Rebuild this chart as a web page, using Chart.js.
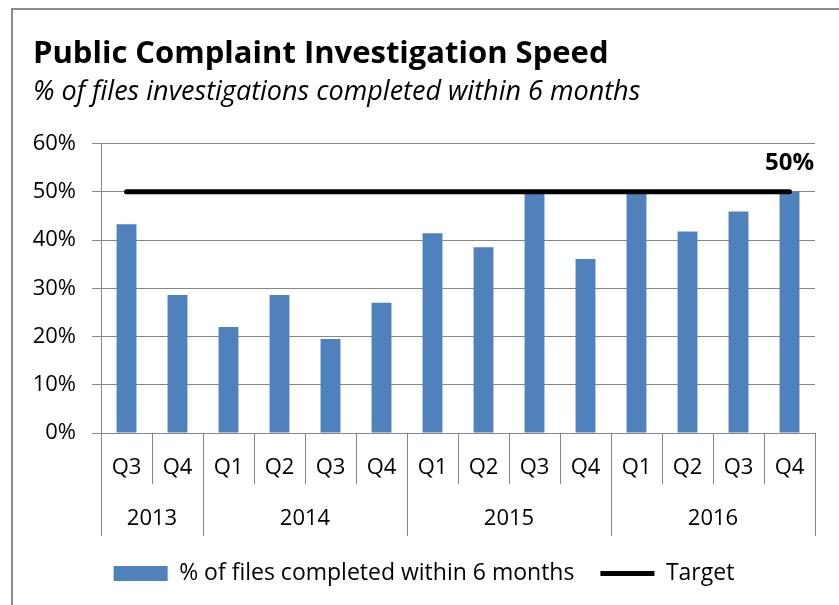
<!DOCTYPE html>
<html lang="en">
<head>
  <meta charset="UTF-8">
  <title>Public Complaint Investigation Speed</title>
  <script src="https://cdn.jsdelivr.net/npm/chart.js"></script>
  <style>
    body { margin: 0; background: #fff; }
    #wrap { position: relative; width: 839px; height: 605px; overflow: hidden; }
    #frame { position: absolute; left: 11px; top: 8px; width: 900px; height: 700px; border: 2px solid #8c8c8c; }
    #chart { position: absolute; left: 0; top: 0; }
  </style>
</head>
<body>
  <div id="wrap">
    <div id="frame"></div>
    <canvas id="chart" width="839" height="605"></canvas>
  </div>

  <script>
    // data
    const quarters = ["Q3", "Q4", "Q1", "Q2", "Q3", "Q4", "Q1", "Q2", "Q3", "Q4", "Q1", "Q2", "Q3", "Q4"];
    const years = ["2013", "2014", "2015", "2016"];
    const quartersInYear = [2, 4, 4, 4];
    const completed = [43.3, 28.6, 22.0, 28.6, 19.5, 27.0, 41.4, 38.5, 50.0, 36.1, 50.0, 41.8, 45.9, 50.0];
    const target = [50, 50, 50, 50, 50, 50, 50, 50, 50, 50, 50, 50, 50, 50];
    const yTicks = [0, 10, 20, 30, 40, 50, 60];

    const seriesNames = ["% of files completed within 6 months", "Target"];

    // year group edges and centres, counted in quarters
    const yearEdges = [0];
    const yearCentres = [];
    quartersInYear.forEach(n => {
      const start = yearEdges[yearEdges.length - 1];
      yearCentres.push(start + n / 2);
      yearEdges.push(start + n);
    });

    const FONT = "'Open Sans', Lato, sans-serif";
    const GRID = "#878787";

    const targetLabel = {
      id: "targetLabel",
      afterDatasetsDraw(chart) {
        const meta = chart.getDatasetMeta(1);
        const last = meta.data[meta.data.length - 1];
        const ctx = chart.ctx;
        ctx.save();
        ctx.font = "bold 24px " + FONT;
        ctx.fillStyle = "#000";
        ctx.textAlign = "center";
        ctx.textBaseline = "middle";
        ctx.fillText(target[target.length - 1] + "%", last.x, last.y - 29);
        ctx.restore();
      }
    };

    new Chart(document.getElementById("chart"), {
      type: "bar",
      data: {
        labels: quarters,
        datasets: [
          {
            label: seriesNames[0],
            data: completed,
            backgroundColor: "#4f81bd",
            borderWidth: 0,
            categoryPercentage: 1,
            barPercentage: 0.39,
            order: 2
          },
          {
            type: "line",
            label: seriesNames[1],
            data: target,
            borderColor: "#000",
            backgroundColor: "#000",
            borderWidth: 5,
            borderCapStyle: "round",
            pointRadius: 0,
            order: 1
          }
        ]
      },
      options: {
        responsive: false,
        devicePixelRatio: 1,
        animation: false,
        layout: { padding: { left: 33, right: 24, top: 0, bottom: 10 } },
        plugins: {
          title: {
            display: true,
            align: "start",
            text: "Public Complaint Investigation Speed",
            color: "#000",
            font: { family: FONT, size: 31, weight: "bold", lineHeight: 1.2 },
            padding: { top: 36, bottom: 0 }
          },
          subtitle: {
            display: true,
            align: "start",
            text: "% of files investigations completed within 6 months",
            color: "#000",
            font: { family: FONT, size: 27, style: "italic", lineHeight: 1.2 },
            padding: { top: 3, bottom: 35 }
          },
          legend: {
            position: "bottom",
            labels: {
              color: "#000",
              font: { family: FONT, size: 23 },
              usePointStyle: true,
              pointStyleWidth: 54,
              boxHeight: 15,
              padding: 26,
              sort: (a, b) => a.datasetIndex - b.datasetIndex,
              generateLabels(chart) {
                const items = Chart.defaults.plugins.legend.labels.generateLabels(chart);
                items.forEach(it => {
                  it.pointStyle = it.datasetIndex === 0 ? "rect" : "line";
                  if (it.datasetIndex === 1) { it.strokeStyle = "#000"; it.lineWidth = 5; }
                });
                return items;
              }
            }
          },
          tooltip: { enabled: false }
        },
        scales: {
          y: {
            min: 0,
            max: 60,
            afterBuildTicks(scale) { scale.ticks = yTicks.map(v => ({ value: v })); },
            afterFit(scale) { scale.width = 68; },
            ticks: {
              color: "#000",
              font: { family: FONT, size: 22 },
              padding: 16,
              callback: v => v + "%"
            },
            grid: { color: GRID, tickLength: 9 },
            border: { color: GRID }
          },
          x: {
            weight: 1,
            afterFit(scale) { scale.height = 51; },
            grid: { drawOnChartArea: false, color: GRID, tickLength: 51, offset: true },
            border: { color: GRID },
            ticks: {
              color: "#000",
              font: { family: FONT, size: 22 },
              padding: -29,
              maxRotation: 0,
              autoSkip: false
            }
          },
          x2: {
            type: "linear",
            position: "bottom",
            weight: 2,
            offset: false,
            min: 0,
            max: yearEdges[yearEdges.length - 1],
            afterBuildTicks(scale) {
              const vals = [];
              for (let v = 0; v <= yearEdges[yearEdges.length - 1]; v++) vals.push({ value: v });
              scale.ticks = vals;
            },
            afterFit(scale) { scale.height = 52; },
            grid: {
              drawOnChartArea: false,
              offset: false,
              tickLength: 52,
              color: ctx => (ctx.tick && yearEdges.includes(ctx.tick.value)) ? GRID : "rgba(0,0,0,0)"
            },
            border: { display: false },
            ticks: {
              color: "#000",
              font: { family: FONT, size: 22 },
              padding: -30,
              maxRotation: 0,
              autoSkip: false,
              callback: v => {
                const i = yearCentres.indexOf(v);
                return i >= 0 ? years[i] : "";
              }
            }
          }
        }
      },
      plugins: [targetLabel]
    });
  </script>
</body>
</html>
